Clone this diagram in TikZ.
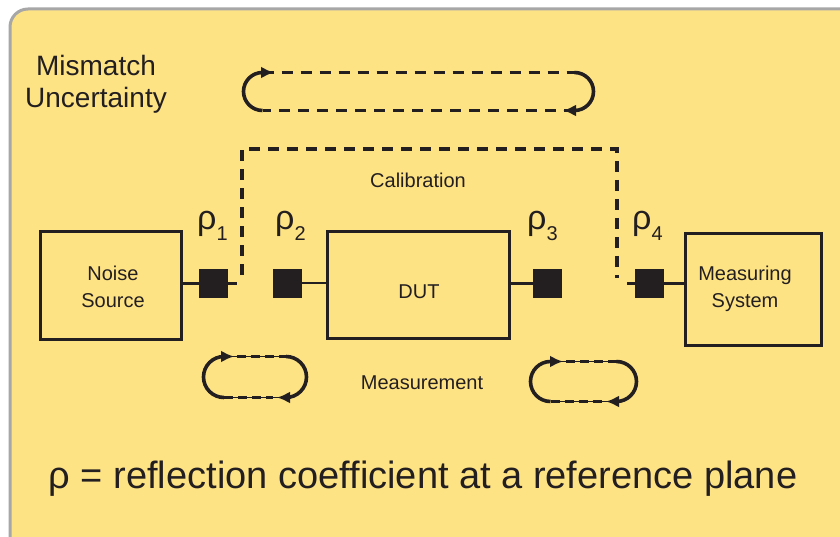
\documentclass[tikz,border=0pt]{standalone}
\usepackage{fontspec}
\setmainfont{Liberation Sans}
\usetikzlibrary{arrows.meta,calc,positioning}
\definecolor{panel}{HTML}{FEE385}
\definecolor{rim}{HTML}{A7A7A7}
\definecolor{ink}{HTML}{231F20}
\tikzset{>={Latex[length=13pt,width=12pt]}}
\tikzset{blockbox/.style={draw=ink,line width=3.5pt,inner sep=0pt}}
\tikzset{plane/.style={fill=ink,minimum size=29pt,inner sep=0pt}}
\tikzset{wire/.style={draw=ink,line width=2.6pt}}
\tikzset{lbl/.style={font=\fontsize{20}{27}\selectfont,text=ink,align=center}}
\tikzset{caldash/.style={draw=ink,line width=3.4pt,dash pattern=on 11pt off 8pt}}
\tikzset{ringarc/.style={draw=ink,line width=3.6pt}}
\tikzset{ringdash/.style={draw=ink,line width=3.4pt,dash pattern=on 11pt off 8pt}}
\tikzset{ringthin/.style={draw=ink,line width=1.2pt}}
\tikzset{ringshort/.style={draw=ink,line width=3.6pt,dash pattern=on 9pt off 5pt}}
\newcommand{\rholab}[1]{{\fontsize{34}{34}\selectfont ρ}\raisebox{-11pt}{\fontsize{20}{20}\selectfont #1}}

\begin{document}
\begin{tikzpicture}[x=1pt,y=-1pt]
  \useasboundingbox (0,0) rectangle (840,537);
  \fill[white] (0,0) rectangle (840,537);
  % Panel
  \draw[fill=panel,draw=rim,line width=3pt,rounded corners=18pt] (10,9) rectangle (890,590);

  % Blocks
  \node[blockbox,minimum width=141pt,minimum height=108pt] (ns) at (111,285.5) {};
  \node[blockbox,minimum width=182pt,minimum height=107pt] (dut) at (418.5,285) {};
  \node[blockbox,minimum width=136pt,minimum height=112pt] (ms) at (753.5,289.5) {};
  \node[lbl] (nslbl) at (113,287) {Noise\\Source};
  \node[lbl] (dutlbl) at (419,292) {DUT};
  \node[lbl] (mslbl) at (745,289) {Measuring\\System};

  % Reference planes
  \coordinate (p1end) at (237,283.5);
  \coordinate (p4end) at (627,283.5);
  \draw[wire] (ns.east |- p1end) -- (p1end);
  \node[plane] (p1) at (213,283.5) {};
  \node[plane] (p2) at (287.5,283) {};
  \node[plane] (p3) at (547.5,283.5) {};
  \node[plane] (p4) at (649.5,283.5) {};
  \draw[wire] (p2) -- (p2 -| dut.west);
  \draw[wire] (dut.east |- p3) -- (p3);
  \draw[wire] (p4end) -- (p4 -| ms.west);
  \node[anchor=base west,inner sep=0pt,text=ink] (r1) at (197,230) {\rholab{1}};
  \node[anchor=base west,inner sep=0pt,text=ink] (r2) at (275,230) {\rholab{2}};
  \node[anchor=base west,inner sep=0pt,text=ink] (r3) at (527,230) {\rholab{3}};
  \node[anchor=base west,inner sep=0pt,text=ink] (r4) at (632,230) {\rholab{4}};

  % Calibration path
  \coordinate (cal1) at (242,275);
  \coordinate (cal2) at (242,149);
  \coordinate (cal3) at (617,149);
  \coordinate (cal4) at (617,278);
  \draw[caldash] (cal1) -- (cal2) -- (cal3) -- (cal4);
  \node[lbl] (cal) at (418,180) {Calibration};
  \node[lbl] (meas) at (422,383) {Measurement};

  % Mismatch loop (top)
  \draw[ringarc] (262.5,72.5) arc (270:90:19);
  \draw[ringarc] (574.5,72.5) arc (-90:90:19);
  \draw[ringdash] (262.5,72.5) -- (574.5,72.5);
  \draw[ringdash] (574.5,110.5) -- (262.5,110.5);
  \draw[ringarc,->] (260,72.5) -- (274,72.5);
  \draw[ringarc,->] (577,110.5) -- (563,110.5);

  % Mismatch loop (left)
  \draw[ringarc] (224,356.5) arc (270:90:20.5);
  \draw[ringarc] (286,356.5) arc (-90:90:20.5);
  \draw[ringthin] (224,356.5) -- (286,356.5);
  \draw[ringthin] (286,397.5) -- (224,397.5);
  \draw[ringshort] (237,356.5) -- (286,356.5);
  \draw[ringshort] (224,397.5) -- (273,397.5);
  \draw[ringarc,->] (221,356.5) -- (234,356.5);
  \draw[ringarc,->] (290,397.5) -- (277,397.5);

  % Mismatch loop (right)
  \draw[ringarc] (550.5,361.5) arc (270:90:20);
  \draw[ringarc] (616.5,361.5) arc (-90:90:20);
  \draw[ringthin] (550.5,361.5) -- (616.5,361.5);
  \draw[ringthin] (616.5,401.5) -- (550.5,401.5);
  \draw[ringshort] (566,361.5) -- (616.5,361.5);
  \draw[ringshort] (550.5,401.5) -- (602,401.5);
  \draw[ringarc,->] (549,361.5) -- (563,361.5);
  \draw[ringarc,->] (620,401.5) -- (606,401.5);

  % Texts
  \node[font=\fontsize{28}{32}\selectfont,align=center,text=ink] (title) at (96,84) {Mismatch\\Uncertainty};
  \node[font=\fontsize{38}{40}\selectfont,text=ink] (legend) at (423,479) {ρ = reflection coefficient at a reference plane};
\end{tikzpicture}
\end{document}
